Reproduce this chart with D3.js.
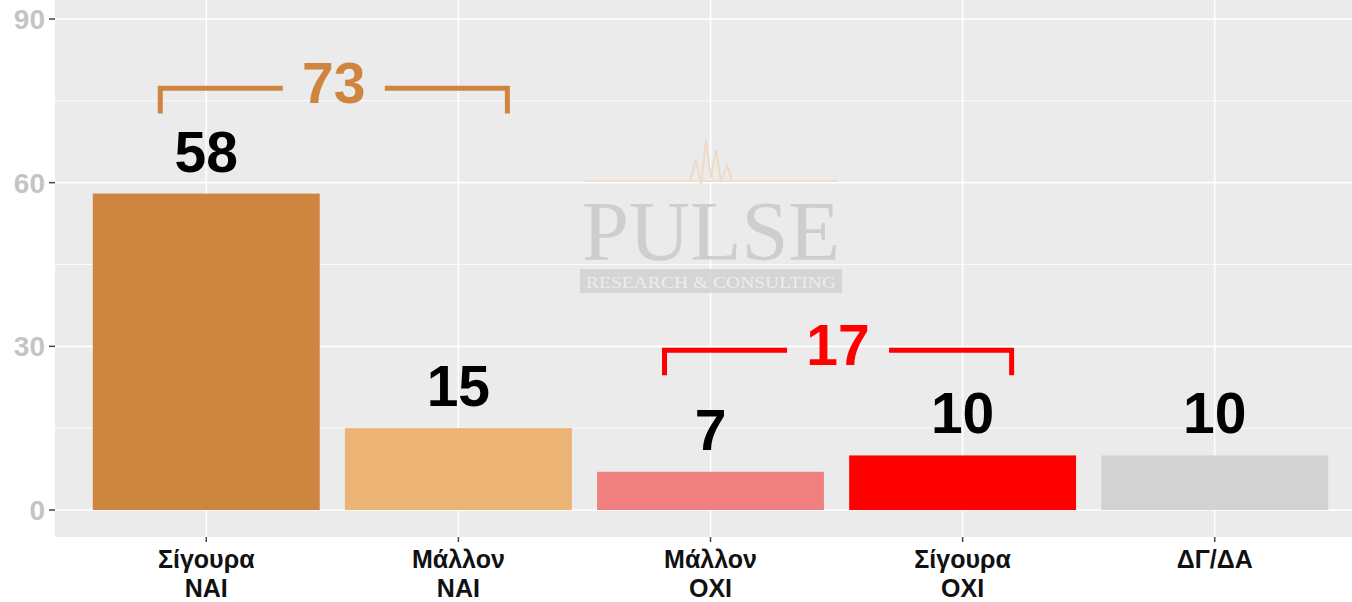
<!DOCTYPE html>
<html><head><meta charset="utf-8">
<script src="https://cdn.jsdelivr.net/npm/d3@7"></script>
<style>body{margin:0;background:#fff;}svg{display:block;}</style>
</head><body>
<svg id="chart" width="1352" height="602"></svg>
<script>
const categories = ["Σίγουρα\nΝΑΙ", "Μάλλον\nΝΑΙ", "Μάλλον\nΟΧΙ", "Σίγουρα\nΟΧΙ", "ΔΓ/ΔΑ"];
const values = [58, 15, 7, 10, 10];
const barColors = ["#CD853F", "#EBB374", "#F08080", "#FF0000", "#D3D3D3"];
const yTicks = [0, 30, 60, 90];
const yMinor = [15, 45, 75];
const bracketLabels = ["73", "17"];
const bracketFrom = [0, 2];
const bracketTo = [1, 3];
const bracketY = [77.3, 29.3];
const bracketDrop = [4.6, 4.6];
const bracketColors = ["#CD853F", "#FF0000"];

const svg = d3.select("#chart");
const panelLeft = 55, panelRight = 1366, panelTop = 0, panelBottom = 537;

const x = d3.scaleBand().domain(d3.range(categories.length))
  .range([panelLeft, panelRight]).paddingInner(0.1).paddingOuter(0.15);
const y = d3.scaleLinear().domain([0, 90]).range([510, 19]);

// panel
svg.append("rect").attr("x", panelLeft).attr("y", panelTop)
  .attr("width", panelRight - panelLeft).attr("height", panelBottom - panelTop)
  .attr("fill", "#EBEBEB");

const grid = svg.append("g");
grid.selectAll(".minor").data(yMinor).join("line")
  .attr("x1", panelLeft).attr("x2", panelRight)
  .attr("y1", d => y(d)).attr("y2", d => y(d))
  .attr("stroke", "#fff").attr("stroke-width", 0.8);
grid.selectAll(".major").data(yTicks).join("line")
  .attr("x1", panelLeft).attr("x2", panelRight)
  .attr("y1", d => y(d)).attr("y2", d => y(d))
  .attr("stroke", "#fff").attr("stroke-width", 1.6);
grid.selectAll(".vmajor").data(d3.range(categories.length)).join("line")
  .attr("x1", d => x(d) + x.bandwidth() / 2).attr("x2", d => x(d) + x.bandwidth() / 2)
  .attr("y1", panelTop).attr("y2", panelBottom)
  .attr("stroke", "#fff").attr("stroke-width", 1.6);

// watermark
const wm = svg.append("g").attr("opacity", 0.85);
wm.append("line").attr("x1", 584).attr("x2", 838).attr("y1", 181).attr("y2", 181)
  .attr("stroke", "#F3DCC2").attr("stroke-width", 2);
wm.append("polyline")
  .attr("points", "690,181 696,160 701,185 706,140 711,178 716,150 721,182 727,165 732,181")
  .attr("fill", "none").attr("stroke", "#EFD9C0").attr("stroke-width", 2);
wm.append("text").attr("x", 711).attr("y", 260).attr("text-anchor", "middle")
  .attr("font-family", "'Liberation Serif','DejaVu Serif',serif").attr("font-size", 84)
  .attr("fill", "#C9C9C9").attr("textLength", 258).attr("lengthAdjust", "spacingAndGlyphs")
  .text("PULSE");
wm.append("rect").attr("x", 580).attr("y", 269).attr("width", 262).attr("height", 24)
  .attr("fill", "#D2D2D2");
wm.append("text").attr("x", 711).attr("y", 288).attr("text-anchor", "middle")
  .attr("font-family", "'Liberation Serif','DejaVu Serif',serif").attr("font-size", 16)
  .attr("fill", "#EEEEEE").attr("textLength", 250).attr("lengthAdjust", "spacingAndGlyphs")
  .text("RESEARCH & CONSULTING");

// bars
svg.append("g").selectAll("rect").data(values).join("rect")
  .attr("x", (d, i) => x(i)).attr("width", x.bandwidth())
  .attr("y", d => y(d)).attr("height", d => y(0) - y(d))
  .attr("fill", (d, i) => barColors[i]);

// value labels
svg.append("g").selectAll("text").data(values).join("text")
  .attr("x", (d, i) => x(i) + x.bandwidth() / 2)
  .attr("y", d => y(d) - 22)
  .attr("text-anchor", "middle")
  .attr("font-family", "'Liberation Sans',Arial,sans-serif").attr("font-weight", "bold")
  .attr("font-size", 57).attr("fill", "#000")
  .text(d => d);

// brackets
const br = svg.append("g");
bracketLabels.forEach((lab, i) => {
  const x1 = x(bracketFrom[i]) + x.bandwidth() / 2 - 46;
  const x2 = x(bracketTo[i]) + x.bandwidth() / 2 + 49;
  const cx = (x1 + x2) / 2;
  const yy = y(bracketY[i]);
  const yb = y(bracketY[i] - bracketDrop[i]);
  const c = bracketColors[i];
  const g = br.append("g").attr("stroke", c).attr("stroke-width", 5).attr("fill", "none");
  g.append("path").attr("d", `M${x1},${yb}V${yy}H${cx - 51}`);
  g.append("path").attr("d", `M${cx + 51},${yy}H${x2}V${yb}`);
  br.append("text").attr("x", cx).attr("y", yy + 15).attr("text-anchor", "middle")
    .attr("font-family", "'Liberation Sans',Arial,sans-serif").attr("font-weight", "bold")
    .attr("font-size", 57).attr("fill", c).text(lab);
});

// y axis
const ya = svg.append("g");
ya.selectAll("line").data(yTicks).join("line")
  .attr("x1", panelLeft - 6).attr("x2", panelLeft).attr("y1", d => y(d)).attr("y2", d => y(d))
  .attr("stroke", "#444").attr("stroke-width", 1.5);
ya.selectAll("text").data(yTicks).join("text")
  .attr("x", panelLeft - 10).attr("y", d => y(d) + 10).attr("text-anchor", "end")
  .attr("font-family", "'Liberation Sans',Arial,sans-serif").attr("font-weight", "bold")
  .attr("font-size", 28).attr("fill", "#C4C4C4").text(d => d);

// x axis
const xa = svg.append("g");
xa.selectAll("line").data(d3.range(categories.length)).join("line")
  .attr("x1", d => x(d) + x.bandwidth() / 2).attr("x2", d => x(d) + x.bandwidth() / 2)
  .attr("y1", panelBottom).attr("y2", panelBottom + 5)
  .attr("stroke", "#444").attr("stroke-width", 1.5);
xa.selectAll("text").data(categories).join("text")
  .attr("x", (d, i) => x(i) + x.bandwidth() / 2).attr("y", 568)
  .attr("text-anchor", "middle")
  .attr("font-family", "'Liberation Sans',Arial,sans-serif").attr("font-weight", "bold")
  .attr("font-size", 25).attr("fill", "#111")
  .each(function(d) {
    const t = d3.select(this);
    d.split("\n").forEach((s, k) => {
      t.append("tspan").attr("x", t.attr("x")).attr("dy", k === 0 ? 0 : 29).text(s);
    });
  });
</script>
</body></html>
